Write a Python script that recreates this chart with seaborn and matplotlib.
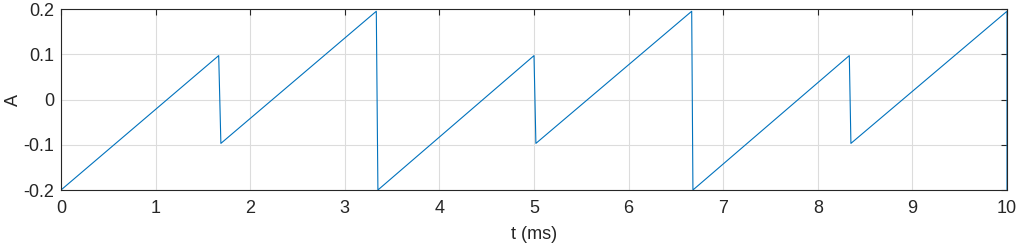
import matplotlib
matplotlib.use("Agg")
import matplotlib.pyplot as plt
import seaborn as sns
import pandas as pd

t_ms = [0.0, 1.667, 1.69, 3.333, 3.35, 5.0, 5.02, 6.667, 6.68, 8.333, 8.35, 10.0, 10.0]
amp = [-0.2, 0.097, -0.097, 0.195, -0.2, 0.097, -0.097, 0.195, -0.2, 0.097, -0.097, 0.195, -0.2]
xticks = [0, 1, 2, 3, 4, 5, 6, 7, 8, 9, 10]
yticks = [-0.2, -0.1, 0, 0.1, 0.2]
ytick_labels = ["-0.2", "-0.1", "0", "0.1", "0.2"]

sns.set_style("white")
plt.rcParams['font.family'] = ['Liberation Sans', 'DejaVu Sans']

df = pd.DataFrame({"t": t_ms, "A": amp})
fig = plt.figure(figsize=(10.21, 2.45), dpi=100)
ax = fig.add_axes([61/1021, 1 - 190/245, (1007-61)/1021, (190-9)/245])
sns.lineplot(data=df, x="t", y="A", sort=False, estimator=None, ax=ax,
             color="#0072BD", linewidth=0.8)
ax.set_xlim(0, 10)
ax.set_ylim(-0.2, 0.2)
ax.set_xticks(xticks)
ax.set_xticklabels([str(x) for x in xticks])
ax.set_yticks(yticks)
ax.set_yticklabels(ytick_labels)
ax.grid(True, color="#dcdcdc", linewidth=0.8)
ax.set_axisbelow(True)
for s in ax.spines.values():
    s.set_color("#262626")
    s.set_linewidth(0.8)
ax.tick_params(direction="in", length=4, width=0.8, colors="#262626",
               top=True, right=True, labelsize=13, labelcolor="#262626")
ax.tick_params(axis="x", pad=7)
ax.tick_params(axis="y", pad=5)
ax.set_xlabel("t (ms)", fontsize=13, color="#262626")
ax.set_ylabel("A", fontsize=13, color="#262626")
ax.xaxis.set_label_coords(0.5, -(226 - 190) / 181)
ax.yaxis.set_label_coords((22 - 61) / 946, 0.5)
fig.savefig("out.png", dpi=100)
